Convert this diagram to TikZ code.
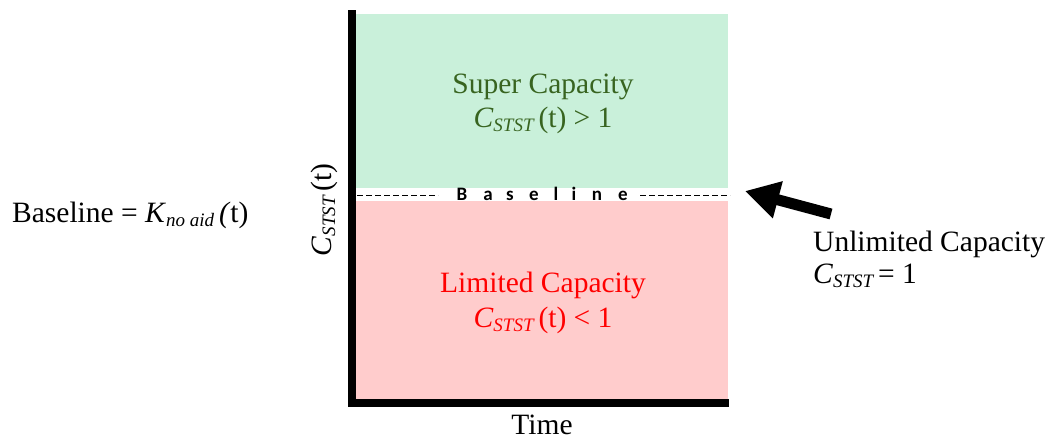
\documentclass[tikz,border=0pt]{standalone}
\usepackage{fontspec}
\setmainfont{Liberation Serif}
\newfontfamily\calib{Carlito}
\usetikzlibrary{arrows.meta}
\definecolor{supfill}{RGB}{201,240,218}
\definecolor{limfill}{RGB}{255,204,204}
\definecolor{suptext}{RGB}{56,100,32}
\definecolor{limtext}{RGB}{255,0,0}
\newcommand{\subsc}[1]{\raisebox{-0.3ex}{\fontsize{19}{19}\selectfont\itshape #1}}
\newcommand{\Cst}{\textit{C}\subsc{STST}}
\begin{document}
\begin{tikzpicture}[x=1pt,y=-1pt,
  lbl/.style={inner sep=0pt,anchor=base,font=\fontsize{29.5}{34}\selectfont},
  bl/.style={inner sep=0pt,anchor=base,font=\calib\bfseries\fontsize{19}{19}\selectfont},
  axisline/.style={line width=8pt},
  dashline/.style={line width=0.8pt,dash pattern=on 6pt off 3pt}]
\useasboundingbox (0,0) rectangle (1050,440);
% regions
\fill[supfill] (356,14) rectangle (728,188);
\fill[limfill] (356,201) rectangle (728,399);
% axes
\coordinate (top) at (352,10);
\coordinate (origin) at (352,403);
\coordinate (xend) at (729,403);
\draw[axisline] (top) -- (origin) -- (xend);
% baseline dashes
\coordinate (dl0) at (357,195);
\coordinate (dl1) at (438,195);
\coordinate (dr0) at (640,195);
\coordinate (dr1) at (730,195);
\draw[dashline] (dl0) -- (dl1);
\draw[dashline] (dr0) -- (dr1);
\foreach \ch/\xx [count=\i] in {B/462,a/488,s/510,e/534,l/556,i/574,n/597,e/623}
  \node[bl] (bl\i) at (\xx,200) {\ch};
% region texts
\node[lbl,text=suptext] (sup1) at (543,93) {Super Capacity};
\node[lbl,text=suptext] (sup2) at (543,127) {\Cst\,(t) > 1};
\node[lbl,text=limtext] (lim1) at (543,292) {Limited Capacity};
\node[lbl,text=limtext] (lim2) at (543,327) {\Cst\,(t) < 1};
% axis labels
\node[lbl,rotate=90] (ylab) at (331,210) {\Cst\,(t)};
\node[lbl] (xlab) at (542,434) {Time};
% left label
\node[lbl,anchor=base west] (baselab) at (12,222) {Baseline = \textit{K}\subsc{no aid}\,\textit{(}t)};
% right label
\node[lbl,anchor=base west] (unl1) at (813,251) {Unlimited Capacity};
\node[lbl,anchor=base west] (unl2) at (813,283) {\Cst\,= 1};
% arrow
\coordinate (atail) at (831,214);
\coordinate (atip) at (745,191);
\draw[line width=11pt,-{Triangle[length=34pt,width=36pt]}] (atail) -- (atip);
\end{tikzpicture}
\end{document}
